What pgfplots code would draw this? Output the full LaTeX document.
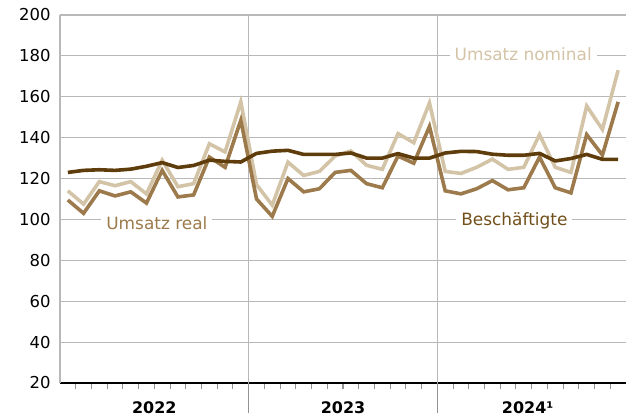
\documentclass[border=0pt]{standalone}
\usepackage{pgfplots}
\pgfplotsset{compat=1.18}
\usepackage{fontspec}
\setmainfont{DejaVu Sans}
\definecolor{nom}{HTML}{D4C4A7}
\definecolor{realc}{HTML}{9C7A4B}
\definecolor{emp}{HTML}{5E3C0B}
\definecolor{empl}{HTML}{72501A}
\definecolor{gridc}{HTML}{B8B8B8}
\begin{document}
\begin{tikzpicture}
\path[use as bounding box] (-60bp,-37bp) rectangle (569bp,383bp);
\begin{axis}[
 at={(0,0)}, anchor=south west,
 scale only axis, width=566bp, height=368bp,
 xmin=0, xmax=36, ymin=20, ymax=200,
 ytick={20,40,...,200},
 xtick={1,...,35}, xticklabels={},
 extra x ticks={12,24}, extra x tick labels={},
 extra x tick style={major tick length=30bp, grid=major},
 axis x line*=bottom, axis y line*=left,
 x axis line style={black, line width=2.4bp, -},
 y axis line style={gridc, line width=1.1bp, -},
 ymajorgrids,
 grid style={gridc, line width=1.1bp},
 tick align=outside,
 major tick length=6bp,
 ytick style={draw=none},
 xtick style={gridc!80!black, line width=1.1bp},
 yticklabel style={font=\fontsize{16.5}{18}\selectfont},
 /pgf/number format/assume math mode=true,
 clip=false,
]
\node[font=\bfseries\fontsize{16}{18}\selectfont, anchor=base, yshift=-30bp] at (axis cs:6,20) {2022};
\node[font=\bfseries\fontsize{16}{18}\selectfont, anchor=base, yshift=-30bp] at (axis cs:18,20) {2023};
\node[font=\bfseries\fontsize{16}{18}\selectfont, anchor=base, yshift=-30bp, xshift=-4bp] at (axis cs:30,20) {2024¹};
\node[fill=white, inner xsep=5bp, inner ysep=3bp, anchor=base, text=nom, font=\fontsize{17}{19}\selectfont] at (axis cs:29.46,177.5) {Umsatz nominal};
\node[fill=white, inner xsep=5bp, inner ysep=3bp, anchor=base, text=realc, font=\fontsize{17}{19}\selectfont] at (axis cs:6.16,95.3) {Umsatz real};
\node[fill=white, inner xsep=5bp, inner ysep=3bp, anchor=base, text=empl, font=\fontsize{17}{19}\selectfont] at (axis cs:28.9,96.8) {Beschäftigte};
\addplot[nom, line width=3.6bp, no markers] coordinates {
(0.5,114)(1.5,107.5)(2.5,118.5)(3.5,116.5)(4.5,118.5)(5.5,112.5)(6.5,129)(7.5,116)(8.5,117.5)(9.5,137)(10.5,133)(11.5,157.5)
(12.5,117)(13.5,107)(14.5,128)(15.5,121.5)(16.5,123.5)(17.5,131)(18.5,133.5)(19.5,126.5)(20.5,124.5)(21.5,142)(22.5,137.5)(23.5,157)
(24.5,123.5)(25.5,122.5)(26.5,125.5)(27.5,129.5)(28.5,124.5)(29.5,125.5)(30.5,141.5)(31.5,125.5)(32.5,123)(33.5,155.5)(34.5,144)(35.5,173)};
\addplot[realc, line width=3.6bp, no markers] coordinates {
(0.5,109.5)(1.5,103)(2.5,114)(3.5,111.5)(4.5,113.5)(5.5,108)(6.5,124)(7.5,111)(8.5,112)(9.5,130.5)(10.5,125.5)(11.5,148.5)
(12.5,110)(13.5,101.5)(14.5,120)(15.5,113.5)(16.5,115)(17.5,123)(18.5,124)(19.5,117.5)(20.5,115.5)(21.5,131)(22.5,127.5)(23.5,145.5)
(24.5,114)(25.5,112.5)(26.5,115)(27.5,119)(28.5,114.5)(29.5,115.5)(30.5,130.5)(31.5,115.5)(32.5,113)(33.5,141.5)(34.5,131.5)(35.5,157.5)};
\addplot[emp, line width=3.6bp, line join=round, no markers] coordinates {
(0.5,123)(1.5,124)(2.5,124.3)(3.5,124)(4.5,124.6)(5.5,126)(6.5,127.8)(7.5,125.4)(8.5,126.4)(9.5,129)(10.5,128.4)(11.5,128.1)
(12.5,132.3)(13.5,133.4)(14.5,133.8)(15.5,131.8)(16.5,131.8)(17.5,131.8)(18.5,132.5)(19.5,130)(20.5,130)(21.5,132.2)(22.5,130)(23.5,130)
(24.5,132.5)(25.5,133.3)(26.5,133.2)(27.5,131.9)(28.5,131.4)(29.5,131.4)(30.5,132.3)(31.5,128.6)(32.5,129.8)(33.5,131.8)(34.5,129.4)(35.5,129.4)};
\end{axis}
\end{tikzpicture}
\end{document}
